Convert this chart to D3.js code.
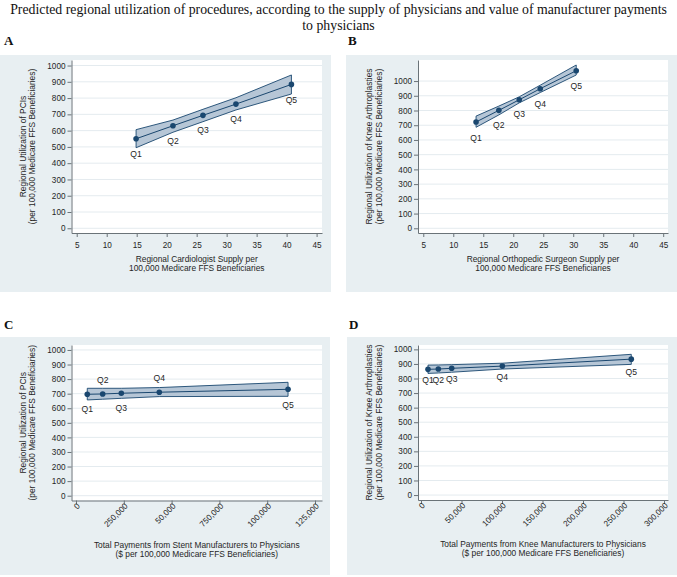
<!DOCTYPE html>
<html><head><meta charset="utf-8">
<script src="https://cdn.jsdelivr.net/npm/d3@7"></script>
<style>
html,body{margin:0;padding:0;background:#fff;}
svg{display:block;}
</style></head>
<body>
<svg id="chart" width="677" height="577"></svg>
<script>
// ---------- DATA ----------
const quintiles = ["Q1","Q2","Q3","Q4","Q5"];

const panelA_x     = [14.9, 21.05, 26.05, 31.55, 40.8];
const panelA_y     = [550, 630, 694, 763, 884];
const panelA_upper = [606, 665, 731, 802, 942];
const panelA_lower = [495, 590, 655, 727, 825];

const panelB_x     = [13.8, 17.6, 21.0, 24.5, 30.5];
const panelB_y     = [722, 801, 873, 948, 1070];
const panelB_upper = [762, 830, 893, 972, 1109];
const panelB_lower = [686, 770, 852, 922, 1041];

const panelC_x     = [5900, 13960, 23700, 43570, 110900];
const panelC_y     = [696, 698, 703, 710, 730];
const panelC_upper = [737, 737, 737, 742, 778];
const panelC_lower = [657, 662, 668, 680, 682];

const panelD_x     = [8640, 21400, 37900, 100400, 259600];
const panelD_y     = [863, 865, 870, 885, 933];
const panelD_upper = [892, 893, 895, 905, 966];
const panelD_lower = [835, 838, 843, 865, 897];

const yTicks = [0,100,200,300,400,500,600,700,800,900,1000];
const xTicksAB = [5,10,15,20,25,30,35,40,45];
const xTicksC = [0, 25000, 50000, 75000, 100000, 125000];
const xTickLabelsC = ["0","250,000","50,000","750,000","100,000","125,000"];
const xTicksD = [0, 50000, 100000, 150000, 200000, 250000, 300000];
const xTickLabelsD = ["0","50,000","100,000","150,000","200,000","250,000","300,000"];

const titleLines = ["Predicted regional utilization of procedures, according to the supply of physicians and value of manufacturer payments", "to physicians"];

// ---------- STYLE ----------
const BG = "#e8eff2";
const NAVY = "#1a476f";
const BAND = "#b6c6d6";
const GRID = "#e4ebef";
const AXIS = "#6a7378";
const TXT = "#262626";
const FONT = "'Liberation Sans', Arial, sans-serif";

const svg = d3.select("#chart");

// title
svg.append("g").selectAll("text").data(titleLines).join("text")
  .attr("x", 338.5).attr("y", (d,i)=>14 + i*15.5)
  .attr("text-anchor","middle")
  .style("font-family","'Liberation Serif', 'Times New Roman', serif")
  .attr("font-size", 13.8).attr("fill","#111")
  .text(d=>d);

const panels = [
  {letter:"A", lx:4, ly:45, bg:[0,55,331,237], plot:[71.5,60,322,233],
   xd:[4.13,45.9], yd:[-29,1034], xs:panelA_x, ys:panelA_y, up:panelA_upper, lo:panelA_lower,
   xt:xTicksAB, xl:xTicksAB.map(String), rot:false, yt:yTicks, lab:[15,15,15,15,16],
   xtitle:["Regional Cardiologist Supply per","100,000 Medicare FFS Beneficiaries"],
   ytitle:["Regional Utilization of PCIs","(per 100,000 Medicare FFS Beneficiaries)"]},
  {letter:"B", lx:348, ly:45, bg:[346,55,331,237], plot:[418,60,668,233],
   xd:[4.12,45.8], yd:[-32,1143], xs:panelB_x, ys:panelB_y, up:panelB_upper, lo:panelB_lower,
   xt:xTicksAB, xl:xTicksAB.map(String), rot:false, yt:yTicks, lab:[16,15,14,15,15],
   xtitle:["Regional Orthopedic Surgeon Supply per","100,000 Medicare FFS Beneficiaries"],
   ytitle:["Regional Utilization of Knee Arthroplasties","(per 100,000 Medicare FFS Beneficiaries)"]},
  {letter:"C", lx:4, ly:329, bg:[0,337,330,238], plot:[71.5,345,322,500.5],
   xd:[-2353,128660], yd:[-33,1034], xs:panelC_x, ys:panelC_y, up:panelC_upper, lo:panelC_lower,
   xt:xTicksC, xl:xTickLabelsC, rot:true, yt:yTicks, lab:[15,-14,15,-14,16],
   xtitle:["Total Payments from Stent Manufacturers to Physicians","($ per 100,000 Medicare FFS Beneficiaries)"],
   ytitle:["Regional Utilization of PCIs","(per 100,000 Medicare FFS Beneficiaries)"]},
  {letter:"D", lx:349, ly:329, bg:[347,337,330,238], plot:[418,345,668,500],
   xd:[-3704,304938], yd:[-34,1030], xs:panelD_x, ys:panelD_y, up:panelD_upper, lo:panelD_lower,
   xt:xTicksD, xl:xTickLabelsD, rot:true, yt:yTicks, lab:[11,11,11,11,13],
   xtitle:["Total Payments from Knee Manufacturers to Physicians","($ per 100,000 Medicare FFS Beneficiaries)"],
   ytitle:["Regional Utilization of Knee Arthroplasties","(per 100,000 Medicare FFS Beneficiaries)"]}
];

panels.forEach(p=>{
  const g = svg.append("g");
  g.append("text").attr("x",p.lx).attr("y",p.ly)
    .style("font-family","'Liberation Serif', 'Times New Roman', serif")
    .attr("font-weight","bold").attr("font-size",13).attr("fill","#111").text(p.letter);
  g.append("rect").attr("x",p.bg[0]).attr("y",p.bg[1]).attr("width",p.bg[2]).attr("height",p.bg[3]).attr("fill",BG);
  const [x0,y0,x1,y1] = p.plot;
  g.append("rect").attr("x",x0).attr("y",y0).attr("width",x1-x0).attr("height",y1-y0).attr("fill","#fff");

  const x = d3.scaleLinear().domain(p.xd).range([x0,x1]);
  const y = d3.scaleLinear().domain(p.yd).range([y1,y0]);

  g.append("g").selectAll("line").data(p.yt).join("line")
    .attr("x1",x0).attr("x2",x1).attr("y1",d=>y(d)).attr("y2",d=>y(d))
    .attr("stroke",GRID).attr("stroke-width",1);

  const ya = g.append("g").attr("transform",`translate(${x0},0)`)
    .call(d3.axisLeft(y).tickValues(p.yt).tickFormat(d3.format("d")).tickSize(4).tickPadding(2).tickSizeOuter(0));
  ya.select(".domain").attr("stroke",AXIS);
  ya.selectAll(".tick line").attr("stroke",AXIS);
  ya.selectAll("text").style("font-family",FONT).attr("font-size",8.2).attr("fill",TXT);

  const xa = g.append("g").attr("transform",`translate(0,${y1})`)
    .call(d3.axisBottom(x).tickValues(p.xt).tickFormat((d,i)=>p.xl[i]).tickSize(4).tickPadding(5).tickSizeOuter(0));
  xa.select(".domain").attr("stroke",AXIS);
  xa.selectAll(".tick line").attr("stroke",AXIS);
  xa.selectAll("text").style("font-family",FONT).attr("font-size",8.2).attr("fill",TXT);
  if(p.rot){
    xa.selectAll("text").attr("text-anchor","end").attr("dy","0.35em")
      .attr("transform","translate(2,4) rotate(-45)").attr("y",0).attr("x",0);
  }

  const idx = d3.range(p.xs.length);
  const area = d3.area().x(i=>x(p.xs[i])).y0(i=>y(p.lo[i])).y1(i=>y(p.up[i]));
  g.append("path").datum(idx).attr("d",area).attr("fill",BAND)
    .attr("stroke",NAVY).attr("stroke-width",0.9).attr("stroke-linejoin","miter");
  const line = d3.line().x(i=>x(p.xs[i])).y(i=>y(p.ys[i]));
  g.append("path").datum(idx).attr("d",line).attr("fill","none").attr("stroke",NAVY).attr("stroke-width",1);
  g.append("g").selectAll("circle").data(idx).join("circle")
    .attr("cx",i=>x(p.xs[i])).attr("cy",i=>y(p.ys[i])).attr("r",2.8).attr("fill",NAVY);
  g.append("g").selectAll("text").data(idx).join("text")
    .attr("x",i=>x(p.xs[i])).attr("y",i=>y(p.ys[i]) + p.lab[i])
    .attr("dy","0.35em").attr("text-anchor","middle")
    .style("font-family",FONT).attr("font-size",8.6).attr("fill",TXT)
    .text(i=>quintiles[i]);

  const xtY = p.rot ? y1 + 47 : y1 + 29;
  g.append("g").selectAll("text").data(p.xtitle).join("text")
    .attr("x",(x0+x1)/2).attr("y",(d,i)=>xtY + i*9.3).attr("text-anchor","middle")
    .style("font-family",FONT).attr("font-size",8.4).attr("fill",TXT).text(d=>d);
  const ytx = x0 - 44, ytyC = (y0+y1)/2;
  g.append("g").attr("transform",`translate(${ytx},${ytyC}) rotate(-90)`)
    .selectAll("text").data(p.ytitle).join("text")
    .attr("x",0).attr("y",(d,i)=>(i-0.5)*9.3).attr("dy","0.35em").attr("text-anchor","middle")
    .style("font-family",FONT).attr("font-size",8.4).attr("fill",TXT).text(d=>d);
});
</script>
</body></html>
